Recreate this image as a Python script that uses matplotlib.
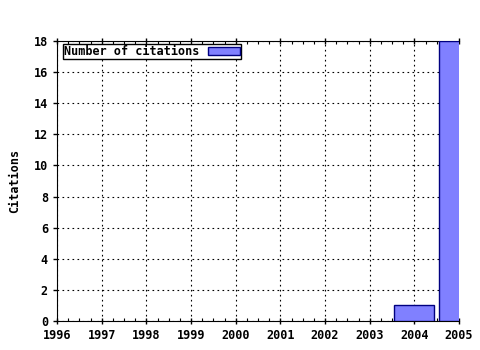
import matplotlib
matplotlib.use('Agg')
import matplotlib.pyplot as plt
from matplotlib.ticker import MultipleLocator

years = [2004, 2005]
citations = [1, 18]
xticks = list(range(1996, 2006))
yticks = list(range(0, 19, 2))

plt.rcParams['font.family'] = ['DejaVu Sans Mono']
plt.rcParams['font.weight'] = 'bold'

fig = plt.figure(figsize=(4.8, 3.5), dpi=100)
ax = fig.add_axes([57/480, 29/350, 402/480, 280/350])

ax.bar(years, citations, width=0.9, color='#8080ff', edgecolor='#000080',
       linewidth=1, label='Number of citations', zorder=3)

ax.set_xlim(1996, 2005)
ax.set_ylim(0, 18)
ax.set_xticks(xticks)
ax.set_yticks(yticks)
ax.xaxis.set_minor_locator(MultipleLocator(0.25))
ax.spines['right'].set_visible(False)
ax.tick_params(axis='x', which='major', direction='inout', length=5, width=1,
               labelsize=8.5, top=True)
ax.tick_params(axis='x', which='minor', direction='in', length=2, width=0.8,
               top=True)
ax.tick_params(axis='y', which='major', direction='out', length=3, width=1,
               labelsize=8.5, right=False)
for lab in ax.get_xticklabels() + ax.get_yticklabels():
    lab.set_fontweight('bold')

ax.grid(True, which='major', color='black', linestyle=(0, (1.5, 3)), linewidth=0.8)
ax.set_axisbelow(True)

ax.set_ylabel('Citations', fontsize=8.5, fontweight='bold', labelpad=9)

# legend box sits just inside the top-left corner
leg = ax.legend(loc='upper left', bbox_to_anchor=(6/402, 1 - 3/280),
                markerfirst=False, fancybox=False,
                edgecolor='black', framealpha=1, fontsize=8.5,
                borderpad=0.1, borderaxespad=0, handlelength=2.7,
                handleheight=0.6, handletextpad=0.7)
leg.get_frame().set_linewidth(1)
for t in leg.get_texts():
    t.set_fontweight('bold')

fig.savefig('out.png', dpi=100)
